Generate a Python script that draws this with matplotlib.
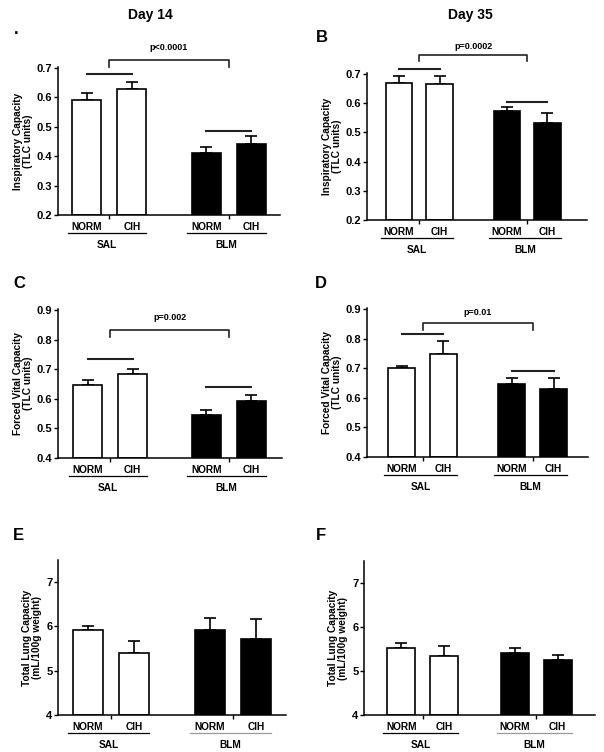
import numpy as np
import matplotlib
matplotlib.use("Agg")
import matplotlib.pyplot as plt

plt.rcParams['font.family'] = ['Liberation Sans', 'DejaVu Sans']
plt.rcParams['font.weight'] = 'bold'

# data (mean, sem) order: SAL-NORM, SAL-CIH, BLM-NORM, BLM-CIH
bar_labels = ['NORM', 'CIH', 'NORM', 'CIH']
groups = ['SAL', 'BLM']
fills = ['white', 'white', 'black', 'black']

ic_d14 = [0.590, 0.627, 0.410, 0.440]
ic_d14_sem = [0.026, 0.025, 0.021, 0.027]
ic_d35 = [0.668, 0.666, 0.573, 0.533]
ic_d35_sem = [0.024, 0.026, 0.014, 0.033]
fvc_d14 = [0.645, 0.685, 0.545, 0.594]
fvc_d14_sem = [0.019, 0.017, 0.017, 0.017]
fvc_d35 = [0.701, 0.748, 0.645, 0.628]
fvc_d35_sem = [0.006, 0.043, 0.021, 0.038]
tlc_d14 = [5.91, 5.39, 5.92, 5.72]
tlc_d14_sem = [0.09, 0.28, 0.28, 0.44]
tlc_d35 = [5.53, 5.34, 5.41, 5.26]
tlc_d35_sem = [0.10, 0.22, 0.11, 0.11]

# comparison lines: (SAL line, BLM line, bracket top, bracket foot, p text y, p text)
cmp_A = (0.678, 0.487, 0.726, 0.703, 0.770, 'p<0.0001')
cmp_B = (0.715, 0.604, 0.766, 0.743, 0.792, 'p=0.0002')
cmp_C = (0.735, 0.639, 0.832, 0.807, 0.873, 'p=0.002')
cmp_D = (0.816, 0.690, 0.853, 0.829, 0.889, 'p=0.01')

x = np.array([0, 1, 2.65, 3.65])
w = 0.65

fig = plt.figure(figsize=(6.04, 7.52), dpi=100)


def px_axes(left, right, top, bottom):
    return fig.add_axes([left / 604, 1 - bottom / 752, (right - left) / 604, (bottom - top) / 752])


def panel(ax, vals, sem, ylim, yticks, ylabel, xlim, cmp=None, blm_line='black'):
    for xi, v, f in zip(x, vals, fills):
        ax.bar(xi, v - ylim[0], bottom=ylim[0], width=w, color=f, edgecolor='black', linewidth=1.2, zorder=2)
    ax.errorbar(x, vals, yerr=[np.zeros(4), sem], fmt='none', ecolor='black',
                elinewidth=1.2, capsize=4.3, capthick=1.2, zorder=1)
    ax.set_xlim(*xlim)
    ax.set_ylim(*ylim)
    ax.set_yticks(yticks)
    ax.set_yticklabels([('%g' % t) for t in yticks])
    ax.set_xticks([(x[0] + x[1]) / 2, (x[2] + x[3]) / 2])
    ax.set_xticklabels([])
    for s in ['top', 'right']:
        ax.spines[s].set_visible(False)
    for s in ['left', 'bottom']:
        ax.spines[s].set_linewidth(1.1)
    ax.tick_params(axis='y', length=3, width=1, labelsize=8, pad=1)
    ax.tick_params(axis='x', length=3, width=1)
    ax.set_ylabel(ylabel, fontsize=7.3, fontweight='bold', labelpad=3, linespacing=1.0)
    tr = ax.get_xaxis_transform()
    for xi, lab in zip(x, bar_labels):
        ax.annotate(lab, (xi, 0), xycoords=tr, xytext=(0, -8.5), textcoords='offset points',
                    ha='center', va='center', fontsize=7.3, fontweight='bold')
    for gi, g in enumerate(groups):
        x0 = x[2 * gi] - w / 2 - 0.1
        x1 = x[2 * gi + 1] + w / 2
        col = 'black' if gi == 0 else blm_line
        line = plt.Line2D([x0, x1], [0, 0], color=col, lw=0.9, clip_on=False)
        line.set_transform(tr + matplotlib.transforms.ScaledTranslation(0, -13 / 72, fig.dpi_scale_trans))
        ax.add_line(line)
        ax.annotate(g, ((x0 + x1) / 2, 0), xycoords=tr, xytext=(0, -21.5), textcoords='offset points',
                    ha='center', va='center', fontsize=7.3, fontweight='bold')
    if cmp is not None:
        sal_y, blm_y, top, foot, ty, txt = cmp
        ax.plot([x[0], x[1]], [sal_y, sal_y], color='#222222', lw=1.5, clip_on=False)
        ax.plot([x[2], x[3]], [blm_y, blm_y], color='#222222', lw=1.5, clip_on=False)
        m0 = (x[0] + x[1]) / 2
        m1 = (x[2] + x[3]) / 2
        ax.plot([m0, m0, m1, m1], [foot, top, top, foot], color='#222222', lw=1.2, clip_on=False)
        ax.text((m0 + m1) / 2, ty, txt, ha='center', va='center', fontsize=6.5, fontweight='bold')


ic_label = 'Inspiratory Capacity\n(TLC units)'
fvc_label = 'Forced Vital Capacity\n(TLC units)'
tlc_label = 'Total Lung Capacity\n(mL/100g weight)'

axA = px_axes(58, 280, 67, 215)
panel(axA, ic_d14, ic_d14_sem, (0.2, 0.703), [0.2, 0.3, 0.4, 0.5, 0.6, 0.7], ic_label, (-0.64, 4.29), cmp_A)
axB = px_axes(367, 587, 73, 220)
panel(axB, ic_d35, ic_d35_sem, (0.2, 0.703), [0.2, 0.3, 0.4, 0.5, 0.6, 0.7], ic_label, (-0.78, 4.62), cmp_B)
axC = px_axes(58, 282, 309, 458)
panel(axC, fvc_d14, fvc_d14_sem, (0.4, 0.903), [0.4, 0.5, 0.6, 0.7, 0.8, 0.9], fvc_label, (-0.67, 4.34), cmp_C)
axD = px_axes(367, 588, 308, 457)
panel(axD, fvc_d35, fvc_d35_sem, (0.4, 0.903), [0.4, 0.5, 0.6, 0.7, 0.8, 0.9], fvc_label, (-0.84, 4.48), cmp_D)
axE = px_axes(58, 286, 560, 715)
panel(axE, tlc_d14, tlc_d14_sem, (4, 7.5), [4, 5, 6, 7], tlc_label, (-0.65, 4.3), blm_line='#999999')
axF = px_axes(364, 595, 561, 715)
panel(axF, tlc_d35, tlc_d35_sem, (4, 7.5), [4, 5, 6, 7], tlc_label, (-0.87, 4.52), blm_line='#999999')

fig.text(150 / 604, 1 - 15 / 752, 'Day 14', ha='center', va='center', fontsize=10, fontweight='bold')
fig.text(470 / 604, 1 - 15 / 752, 'Day 35', ha='center', va='center', fontsize=10, fontweight='bold')
for lab, px, py in [('.', 14, 30), ('B', 316, 37), ('C', 13, 284), ('D', 315, 284), ('E', 13, 536), ('F', 316, 536)]:
    fig.text(px / 604, 1 - py / 752, lab, ha='left', va='center', fontsize=12, fontweight='bold')

fig.savefig('out.png', dpi=100)
